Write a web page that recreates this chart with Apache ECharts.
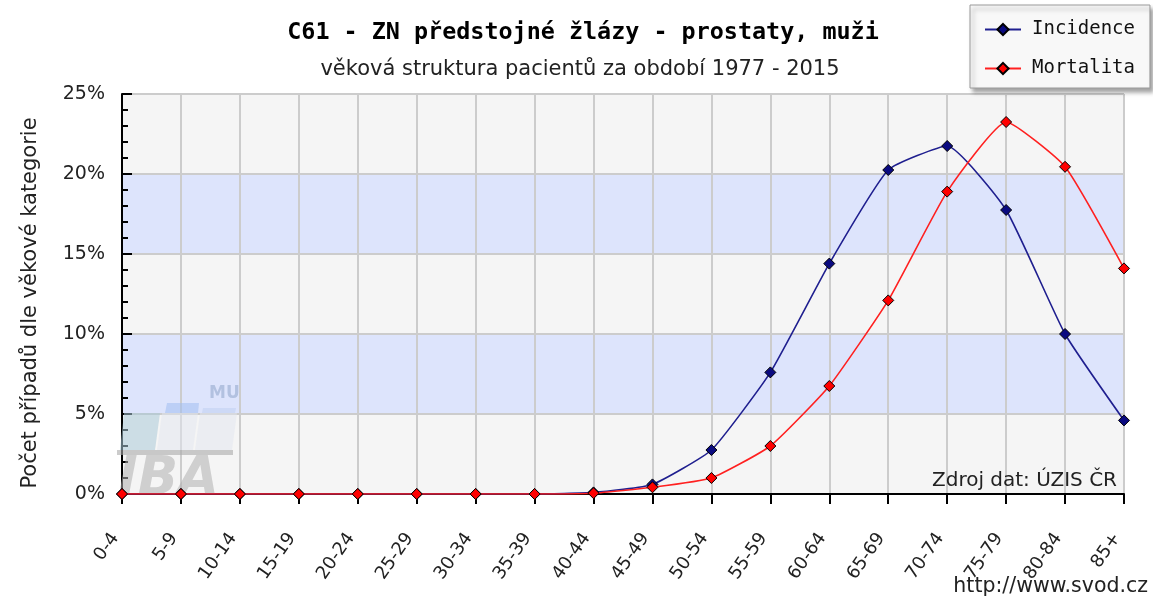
<!DOCTYPE html>
<html>
<head>
<meta charset="utf-8">
<script src="https://cdn.jsdelivr.net/npm/echarts@6/dist/echarts.min.js"></script>
<style>
  html, body { margin: 0; padding: 0; background: #fff; }
  #chart { width: 1153px; height: 598px; }
</style>
</head>
<body>
<div id="chart"></div>
<script>
// Age groups on the category axis
const ageGroups = ['0-4', '5-9', '10-14', '15-19', '20-24', '25-29', '30-34', '35-39',
  '40-44', '45-49', '50-54', '55-59', '60-64', '65-69', '70-74', '75-79', '80-84', '85+'];

// Share of cases per age group (%)
const incidence = [0, 0, 0, 0, 0, 0, 0, 0, 0.1, 0.6, 2.75, 7.6, 14.4, 20.25, 21.75, 17.75, 10.0, 4.6];
const mortalita = [0, 0, 0, 0, 0, 0, 0, 0, 0.05, 0.42, 1.0, 3.0, 6.75, 12.1, 18.9, 23.25, 20.45, 14.1];

// Y-axis ticks
const yTicks = [0, 5, 10, 15, 20, 25];

const chart = echarts.init(document.getElementById('chart'), null, { renderer: 'canvas' });

const sansFont = 'DejaVu Sans';
const monoFont = 'DejaVu Sans Mono';

chart.setOption({
  animation: false,
  backgroundColor: '#ffffff',
  title: [
    {
      text: 'C61 - ZN předstojné žlázy - prostaty, muži',
      left: 578, top: 16, textAlign: 'center',
      textStyle: { fontFamily: monoFont, fontWeight: 'bold', fontSize: 23.4, color: '#000' }
    },
    {
      text: 'věková struktura pacientů za období 1977 - 2015',
      left: 575, top: 54, textAlign: 'center',
      textStyle: { fontFamily: sansFont, fontWeight: 'normal', fontSize: 21, color: '#222' }
    }
  ],
  legend: {
    orient: 'vertical',
    left: 970, top: 5,
    padding: [15, 15, 10, 14],
    itemGap: 20,
    itemWidth: 36, itemHeight: 14,
    backgroundColor: '#f8f8f8',
    borderColor: '#9a9a9a', borderWidth: 1,
    shadowColor: 'rgba(0,0,0,0.35)', shadowBlur: 4, shadowOffsetX: 3, shadowOffsetY: 4,
    textStyle: { fontFamily: monoFont, fontSize: 19, color: '#111', padding: [0, 0, 0, 6] },
    data: ['Incidence', 'Mortalita']
  },
  grid: { left: 122, right: 29, top: 94, bottom: 104, containLabel: false },
  xAxis: {
    type: 'category',
    data: ageGroups,
    boundaryGap: false,
    axisLine: { lineStyle: { color: '#000', width: 2 } },
    axisTick: { show: true, length: 10, inside: false, lineStyle: { color: '#000', width: 2 } },
    axisLabel: {
      rotate: 55, interval: 0, margin: 31,
      padding: [0, 12, 0, 0],
      fontFamily: sansFont, fontSize: 18, color: '#222'
    },
    splitLine: { show: true, lineStyle: { color: '#cccccc', width: 2 } }
  },
  yAxis: {
    type: 'value',
    min: yTicks[0], max: yTicks[yTicks.length - 1], interval: 5,
    name: 'Počet případů dle věkové kategorie',
    nameLocation: 'middle', nameGap: 81, nameRotate: 90,
    nameTextStyle: { fontFamily: sansFont, fontSize: 21, color: '#222', padding: [0, 18, 0, 0] },
    axisLine: { show: true, lineStyle: { color: '#000', width: 2 } },
    axisTick: { show: true, inside: true, length: 10, lineStyle: { color: '#000', width: 2 } },
    minorTick: { show: true, splitNumber: 5, length: 6, lineStyle: { color: '#000', width: 2 } },
    axisLabel: {
      fontFamily: sansFont, fontSize: 19, color: '#222', margin: 17,
      formatter: v => v + '%'
    },
    splitLine: { show: true, lineStyle: { color: '#cccccc', width: 2 } },
    splitArea: { show: true, areaStyle: { color: ['#f5f5f5', '#dde4fc'] } }
  },
  graphic: [
    // faint IBA MU watermark in the lower-left corner of the plot
    { type: 'text', z: 1, silent: true, x: 209, y: 385,
      style: { text: 'MU', fontFamily: sansFont, fontWeight: 'bold', fontSize: 17, fill: 'rgba(150,170,205,0.6)' } },
    { type: 'polygon', z: 1, silent: true,
      shape: { points: [[167, 403], [199, 403], [198, 413], [165, 413]] },
      style: { fill: 'rgba(160,190,240,0.55)' } },
    { type: 'polygon', z: 1, silent: true,
      shape: { points: [[203, 408], [236, 408], [235, 413], [202, 413]] },
      style: { fill: 'rgba(190,205,240,0.5)' } },
    { type: 'polygon', z: 1, silent: true,
      shape: { points: [[124, 413], [160, 413], [155, 450], [120, 450]] },
      style: { fill: 'rgba(170,200,215,0.55)' } },
    { type: 'polygon', z: 1, silent: true,
      shape: { points: [[162, 413], [198, 413], [193, 450], [157, 450]] },
      style: { fill: 'rgba(225,230,240,0.5)' } },
    { type: 'polygon', z: 1, silent: true,
      shape: { points: [[200, 413], [237, 413], [232, 450], [195, 450]] },
      style: { fill: 'rgba(225,230,240,0.5)' } },
    { type: 'rect', z: 1, silent: true,
      shape: { x: 117, y: 450, width: 116, height: 5 },
      style: { fill: 'rgba(170,170,170,0.6)' } },
    { type: 'text', z: 1, silent: true, x: 118, y: 454,
      style: { text: 'IBA', fontFamily: sansFont, fontWeight: 'bold', fontStyle: 'italic', fontSize: 53, fill: 'rgba(175,175,175,0.55)' } },
    {
      type: 'text', right: 36, top: 471, z: 5,
      style: { text: 'Zdroj dat: ÚZIS ČR', fontFamily: sansFont, fontSize: 20, fill: '#222' }
    },
    {
      type: 'text', right: 5, top: 576, z: 5,
      style: { text: 'http://www.svod.cz', fontFamily: sansFont, fontSize: 20.5, fill: '#222' }
    }
  ],
  series: [
    {
      name: 'Incidence',
      type: 'line',
      data: incidence,
      smooth: 0.15,
      symbol: 'diamond', symbolSize: [11, 11],
      lineStyle: { color: '#1f1f8f', width: 1.6 },
      itemStyle: { color: '#0a0a80', borderColor: '#000', borderWidth: 1 },
      z: 3
    },
    {
      name: 'Mortalita',
      type: 'line',
      data: mortalita,
      smooth: 0.15,
      symbol: 'diamond', symbolSize: [11, 11],
      lineStyle: { color: '#ff2020', width: 1.6 },
      itemStyle: { color: '#ff0000', borderColor: '#000', borderWidth: 1 },
      z: 4
    }
  ]
});
</script>
</body>
</html>
